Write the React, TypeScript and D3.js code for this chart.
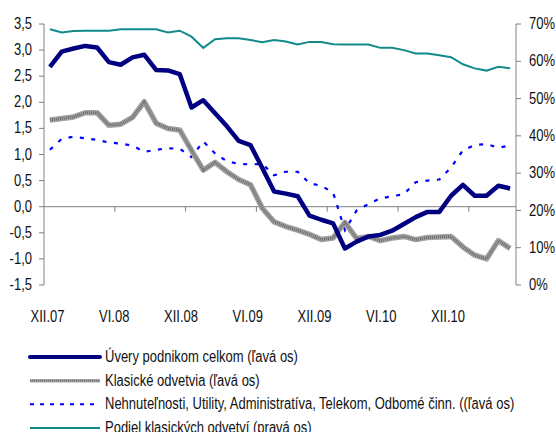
import React from "react";
import * as d3 from "d3";

const categories = [
  "XII.07","I.08","II.08","III.08","IV.08","V.08","VI.08","VII.08","VIII.08","IX.08","X.08","XI.08",
  "XII.08","I.09","II.09","III.09","IV.09","V.09","VI.09","VII.09","VIII.09","IX.09","X.09","XI.09",
  "XII.09","I.10","II.10","III.10","IV.10","V.10","VI.10","VII.10","VIII.10","IX.10","X.10","XI.10",
  "XII.10","I.11","II.11","III.11"
];

const tickLabels = ["XII.07","VI.08","XII.08","VI.09","XII.09","VI.10","XII.10"];
const leftTicks = [3.5, 3.0, 2.5, 2.0, 1.5, 1.0, 0.5, 0.0, -0.5, -1.0, -1.5];
const rightTicks = [70, 60, 50, 40, 30, 20, 10, 0];

const uvery = [2.68, 2.97, 3.03, 3.08, 3.05, 2.77, 2.72, 2.86, 2.91, 2.62, 2.61, 2.54, 1.90, 2.04, 1.79, 1.54, 1.26, 1.18, 0.74, 0.29, 0.25, 0.20, -0.17, -0.25, -0.32, -0.80, -0.67, -0.57, -0.54, -0.46, -0.33, -0.20, -0.10, -0.10, 0.21, 0.42, 0.21, 0.21, 0.40, 0.35];
const klasicke = [1.66, 1.69, 1.72, 1.80, 1.80, 1.56, 1.58, 1.71, 2.01, 1.60, 1.50, 1.47, 1.08, 0.70, 0.85, 0.67, 0.52, 0.42, -0.03, -0.29, -0.38, -0.45, -0.53, -0.63, -0.60, -0.30, -0.61, -0.57, -0.65, -0.60, -0.57, -0.63, -0.59, -0.58, -0.57, -0.77, -0.93, -1.00, -0.65, -0.80];
const nehnut = [1.09, 1.30, 1.34, 1.31, 1.28, 1.23, 1.21, 1.17, 1.05, 1.09, 1.12, 1.11, 0.95, 1.25, 1.02, 0.87, 0.82, 0.81, 0.82, 0.60, 0.67, 0.67, 0.45, 0.40, 0.27, -0.45, -0.07, 0.05, 0.16, 0.20, 0.24, 0.47, 0.50, 0.52, 0.75, 1.08, 1.18, 1.20, 1.13, 1.17];
const podiel = [68.6, 67.7, 68.1, 68.2, 68.2, 68.2, 68.6, 68.6, 68.6, 68.6, 67.7, 68.2, 66.6, 63.6, 65.9, 66.2, 66.2, 65.7, 65.1, 65.7, 65.3, 64.5, 65.2, 65.2, 64.6, 64.5, 64.5, 64.5, 63.6, 63.6, 63.0, 62.1, 62.1, 61.6, 61.1, 59.2, 58.1, 57.5, 58.5, 58.1];

const legendItems = [
  "Úvery podnikom celkom (ľavá os)",
  "Klasické odvetvia (ľavá os)",
  "Nehnuteľnosti, Utility, Administratíva, Telekom, Odbomé činn. ((ľavá os)",
  "Podiel klasických odvetví (pravá os)",
];

const W = 556, H = 432;
const left = 44, right = 516, top = 24, bottom = 285;
const FONT = "'Liberation Sans', Arial, sans-serif";
const AXIS = "#808080";
const NAVY = "#000080";
const BLUE = "#0000ff";
const TEAL = "#138a8a";
const FS = 13;
const VS = 1.25;

function T({ x, y, anchor = "start", children }: { x: number; y: number; anchor?: string; children: React.ReactNode }) {
  return (
    <text transform={`translate(${x},${y}) scale(1,${VS})`} textAnchor={anchor as any} fontSize={FS} fill="#111">
      {children}
    </text>
  );
}

export default function App() {
  const x = d3.scaleBand<number>().domain(d3.range(categories.length)).range([left, right]);
  const cx = (i: number) => (x(i) as number) + x.bandwidth() / 2;
  const yL = d3.scaleLinear().domain([-1.5, 3.5]).range([bottom, top]);
  const yR = d3.scaleLinear().domain([0, 70]).range([bottom, top]);
  const labelX = d3.scaleLinear().domain([0, 36]).range([47.5, 448]);

  const lineL = d3.line<number>().x((_, i) => cx(i)).y((d) => yL(d));
  const lineR = d3.line<number>().x((_, i) => cx(i)).y((d) => yR(d));

  const y0 = yL(0);
  const tickIdx = d3.range(6, categories.length, 6);
  const legendY = d3.scaleLinear().domain([0, 3]).range([357, 428]);

  return (
    <svg width={W} height={H} style={{ position: "absolute", left: 0, top: 0, background: "#fff" }}
      fontFamily={FONT}>
      <rect width={W} height={H} fill="#fff" />
      {/* left axis */}
      <line x1={left} x2={left} y1={top} y2={bottom} stroke={AXIS} strokeWidth={1} />
      {leftTicks.map((t) => (
        <g key={"l" + t}>
          <line x1={left - 5} x2={left} y1={yL(t)} y2={yL(t)} stroke={AXIS} />
          <T x={32} y={yL(t) + 5} anchor="end">
            {d3.format(".1f")(t).replace(".", ",").replace("−", "-")}
          </T>
        </g>
      ))}
      {/* right axis */}
      <line x1={right} x2={right} y1={top} y2={bottom} stroke={AXIS} strokeWidth={1} />
      {rightTicks.map((t) => (
        <g key={"r" + t}>
          <line x1={right} x2={right + 5} y1={yR(t)} y2={yR(t)} stroke={AXIS} />
          <T x={529} y={yR(t) + 5.2}>{t + "%"}</T>
        </g>
      ))}
      {/* x axis at zero */}
      <line x1={left} x2={right} y1={y0} y2={y0} stroke={AXIS} />
      {tickIdx.map((i) => (
        <line key={"t" + i} x1={x(i) as number} x2={x(i) as number} y1={y0} y2={y0 + 5} stroke={AXIS} />
      ))}
      {tickLabels.map((lab) => (
        <T key={lab} x={labelX(categories.indexOf(lab))} y={321.5} anchor="middle">{lab}</T>
      ))}

      {/* series */}
      <path d={lineR(podiel) as string} fill="none" stroke={TEAL} strokeWidth={2} />
      <path d={lineL(nehnut) as string} fill="none" stroke={BLUE} strokeWidth={2.2} strokeDasharray="4 7.5" />
      <path d={lineL(klasicke) as string} fill="none" stroke="#a4a4a4" strokeWidth={5.5} strokeLinejoin="round" />
      <path d={lineL(klasicke) as string} fill="none" stroke="#6a6a6a" strokeWidth={3} strokeDasharray="1 1" strokeLinejoin="round" />
      <path d={lineL(uvery) as string} fill="none" stroke={NAVY} strokeWidth={4.5} strokeLinejoin="round" />

      {/* legend */}
      {legendItems.map((name, k) => {
        const ly = legendY(k);
        return (
          <g key={name}>
            {k === 0 && <line x1={30} x2={100} y1={ly} y2={ly} stroke={NAVY} strokeWidth={4} strokeLinecap="round" />}
            {k === 1 && (
              <g>
                <line x1={30} x2={100} y1={ly} y2={ly} stroke="#a4a4a4" strokeWidth={3.5} />
                <line x1={30} x2={100} y1={ly} y2={ly} stroke="#6a6a6a" strokeWidth={1.5} strokeDasharray="1 1" />
              </g>
            )}
            {k === 2 && <line x1={30} x2={100} y1={ly} y2={ly} stroke={BLUE} strokeWidth={2} strokeDasharray="4 6" />}
            {k === 3 && <line x1={30} x2={100} y1={ly} y2={ly} stroke={TEAL} strokeWidth={2} />}
            <T x={105} y={ly + 5}>{name}</T>
          </g>
        );
      })}
    </svg>
  );
}
